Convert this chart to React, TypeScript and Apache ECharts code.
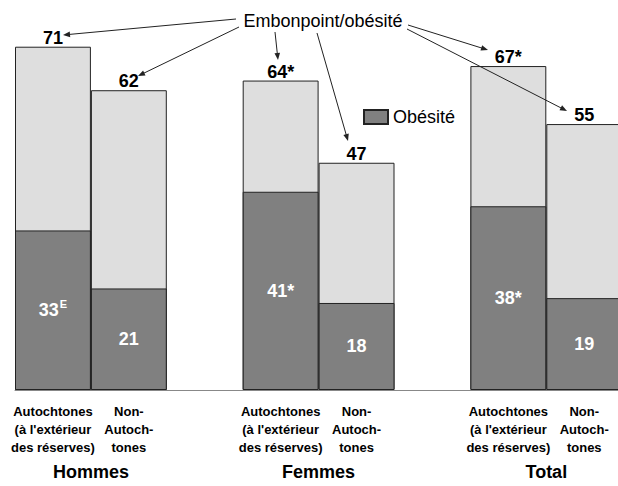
import React, { useEffect, useRef } from "react";
import * as echarts from "echarts";

const subCategories = ["Autochtones\n(à l'extérieur\ndes réserves)", "Non-\nAutoch-\ntones"];
const groups = ["Hommes", "Femmes", "Total"];
const overweight = [71, 62, 64, 47, 67, 55];
const overweightMark = ["", "", "*", "", "*", ""];
const obesity = [33, 21, 41, 18, 38, 19];
const obesityMark = ["E", "", "*", "", "*", ""];
const annotationText = "Embonpoint/obésité";
const legendName = "Obésité";
const overweightName = "Embonpoint/obésité";

// arrows from annotation text to value labels (start x,y -> end x,y)
const arrows: number[][] = [
  [236, 19, 63, 35],
  [239, 27, 138, 76],
  [275, 32, 278, 60],
  [317, 33, 348, 141],
  [408, 25, 488, 50],
  [407, 29, 567, 111],
];

const FONT = "'Liberation Sans', Arial, Helvetica, sans-serif";

export default function App() {
  const ref = useRef<HTMLDivElement>(null);
  useEffect(() => {
    if (!ref.current) return;
    const chart = echarts.init(ref.current, undefined, { renderer: "svg" });

    const cats: string[] = [];
    const owData: any[] = [];
    const obData: any[] = [];
    const owLbl: string[] = [];
    const obLbl: string[] = [];
    groups.forEach((g, gi) => {
      subCategories.forEach((c, ci) => {
        const i = gi * 2 + ci;
        cats.push(c);
        owData.push(overweight[i]);
        obData.push(obesity[i]);
        owLbl.push(String(overweight[i]) + overweightMark[i]);
        const m = obesityMark[i];
        obLbl.push(
          m === "*"
            ? `{v|${obesity[i]}}{a|*}`
            : m
            ? `{v|${obesity[i]}}{s|${m}}`
            : `{v|${obesity[i]}}`
        );
      });
      if (gi < groups.length - 1) {
        cats.push(" ".repeat(gi + 1));
        owData.push(null);
        obData.push(null);
        owLbl.push("");
        obLbl.push("");
      }
    });
    const groupPos: Record<number, string> = {};
    groups.forEach((g, gi) => {
      groupPos[gi * 3 + 1] = g;
    });

    const graphics: any[] = [
      {
        type: "text",
        x: 323,
        y: 21,
        z: 100,
        style: {
          text: annotationText,
          fontSize: 18,
          fontFamily: FONT,
          fill: "#000",
          align: "center",
          verticalAlign: "middle",
        },
      },
    ];
    arrows.forEach(([x1, y1, x2, y2]) => {
      const dx = x2 - x1;
      const dy = y2 - y1;
      const len = Math.sqrt(dx * dx + dy * dy);
      const ux = dx / len;
      const uy = dy / len;
      const bx = x2 - ux * 7;
      const by = y2 - uy * 7;
      graphics.push({
        type: "line",
        z: 100,
        shape: { x1, y1, x2: x2 - ux * 3, y2: y2 - uy * 3 },
        style: { stroke: "#222", lineWidth: 1 },
      });
      graphics.push({
        type: "polygon",
        z: 100,
        shape: {
          points: [
            [x2, y2],
            [bx - uy * 2.8, by + ux * 2.8],
            [bx + uy * 2.8, by - ux * 2.8],
          ],
        },
        style: { fill: "#222" },
      });
    });

    chart.setOption({
      animation: false,
      backgroundColor: "#fff",
      textStyle: { fontFamily: FONT },
      grid: {
        left: 15,
        top: 3.2,
        width: 607.2,
        bottom: 96,
        containLabel: false,
        outerBoundsMode: "none",
      },
      legend: {
        data: [legendName],
        left: 363,
        top: 108,
        padding: 0,
        itemWidth: 24,
        itemHeight: 14,
        icon: "rect",
        textStyle: { fontSize: 18, fontFamily: FONT, color: "#000" },
      },
      xAxis: [
        {
          type: "category",
          data: cats,
          position: "bottom",
          axisLine: { show: true, lineStyle: { color: "#888", width: 1 } },
          axisTick: { show: false },
          axisLabel: {
            interval: 0,
            fontSize: 13,
            fontWeight: "bold",
            color: "#000",
            lineHeight: 18,
            margin: 12,
            fontFamily: FONT,
          },
        },
        {
          type: "value",
          min: 0,
          max: 8,
          interval: 1,
          position: "bottom",
          offset: 0,
          axisLine: { show: false },
          axisTick: { show: false },
          splitLine: { show: false },
          axisLabel: {
            show: true,
            showMinLabel: true,
            showMaxLabel: true,
            margin: 73,
            fontSize: 18,
            fontWeight: "bold",
            color: "#000",
            fontFamily: FONT,
            formatter: (v: number) => groupPos[Math.round(v)] || "",
          },
        },
      ],
      yAxis: { type: "value", min: 0, max: 80, show: false },
      series: [
        {
          name: overweightName,
          type: "bar",
          xAxisIndex: 0,
          data: owData,
          barWidth: "100%",
          barGap: "-100%",
          itemStyle: { color: "#dedede", borderColor: "#222", borderWidth: 1 },
          label: {
            show: true,
            position: "top",
            distance: 0,
            fontSize: 18,
            fontWeight: "bold",
            color: "#000",
            fontFamily: FONT,
            formatter: (p: any) => owLbl[p.dataIndex],
          },
        },
        {
          name: legendName,
          type: "bar",
          xAxisIndex: 0,
          data: obData,
          barWidth: "100%",
          barGap: "-100%",
          itemStyle: { color: "#808080", borderColor: "#222", borderWidth: 1 },
          label: {
            show: true,
            position: "inside",
            formatter: (p: any) => obLbl[p.dataIndex],
            rich: {
              v: { fontSize: 18, fontWeight: "bold", color: "#fff", fontFamily: FONT, lineHeight: 24 },
              a: { fontSize: 18, fontWeight: "bold", color: "#fff", fontFamily: FONT, lineHeight: 24 },
              s: {
                fontSize: 11,
                fontWeight: "bold",
                color: "#fff",
                fontFamily: FONT,
                lineHeight: 11,
                verticalAlign: "top",
                padding: [0, 0, 0, 1],
              },
            },
          },
        },
      ],
      graphic: graphics,
    });
    return () => chart.dispose();
  }, []);
  return (
    <div
      ref={ref}
      style={{ position: "absolute", left: 0, top: 0, width: 618, height: 486, background: "#fff" }}
    />
  );
}
